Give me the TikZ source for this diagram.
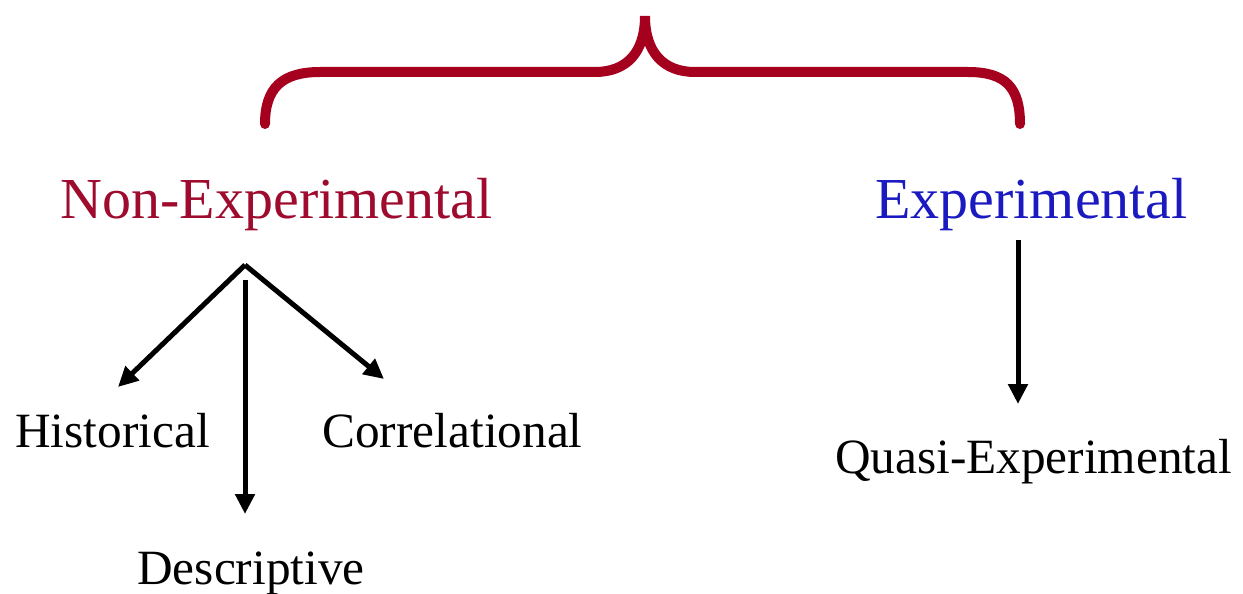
\documentclass[tikz,border=0pt]{standalone}
\usepackage{fontspec}
\setmainfont{Liberation Serif}
\usetikzlibrary{arrows.meta}
\definecolor{bracered}{HTML}{A6001F}
\definecolor{nonexp}{HTML}{9E0B2E}
\definecolor{expblue}{HTML}{1A1AC0}
\tikzset{
  bigtitle/.style={inner sep=0pt, anchor=base, font=\fontsize{58}{64}\selectfont},
  subtitle/.style={inner sep=0pt, anchor=base, font=\fontsize{49.3}{56}\selectfont, text=black},
  arrowline/.style={line width=5pt, -{Triangle[length=20pt,width=19pt]}},
  bracestyle/.style={draw=bracered, line width=10pt, line cap=round}
}
\begin{document}
\begin{tikzpicture}[x=1pt,y=-1pt]
\useasboundingbox (0,0) rectangle (1243,594);
% brace
\draw[bracestyle] (265,124) .. controls (265,88) and (282,72) .. (320,72) -- (595,72)
  .. controls (627,72) and (645,52) .. (645,16)
  .. controls (645,52) and (663,72) .. (695,72) -- (968,72)
  .. controls (1006,72) and (1020,88) .. (1020,124);
% titles
\node[bigtitle, text=nonexp] (nonexp) at (276.5,218) {Non-Experimental};
\node[bigtitle, text=expblue] (exp) at (1031.5,218) {Experimental};
% subtypes
\node[subtitle] (hist) at (112.5,447) {Historical};
\node[subtitle] (corr) at (452.5,447) {Correlational};
\node[subtitle] (desc) at (251,584) {Descriptive};
\node[subtitle] (quasi) at (1033.5,473) {Quasi-Experimental};
% connector coordinates
\coordinate (branch) at (245,265);
\coordinate (vtop) at (245,280);
\coordinate (histend) at (118,387);
\coordinate (corrend) at (384,379);
\coordinate (descend) at (245,514);
\coordinate (exptop) at (1018,240);
\coordinate (expend) at (1018,404);
\draw[arrowline] (branch) -- (histend);
\draw[arrowline] (branch) -- (corrend);
\draw[arrowline] (vtop) -- (descend);
\draw[arrowline] (exptop) -- (expend);
\end{tikzpicture}
\end{document}
